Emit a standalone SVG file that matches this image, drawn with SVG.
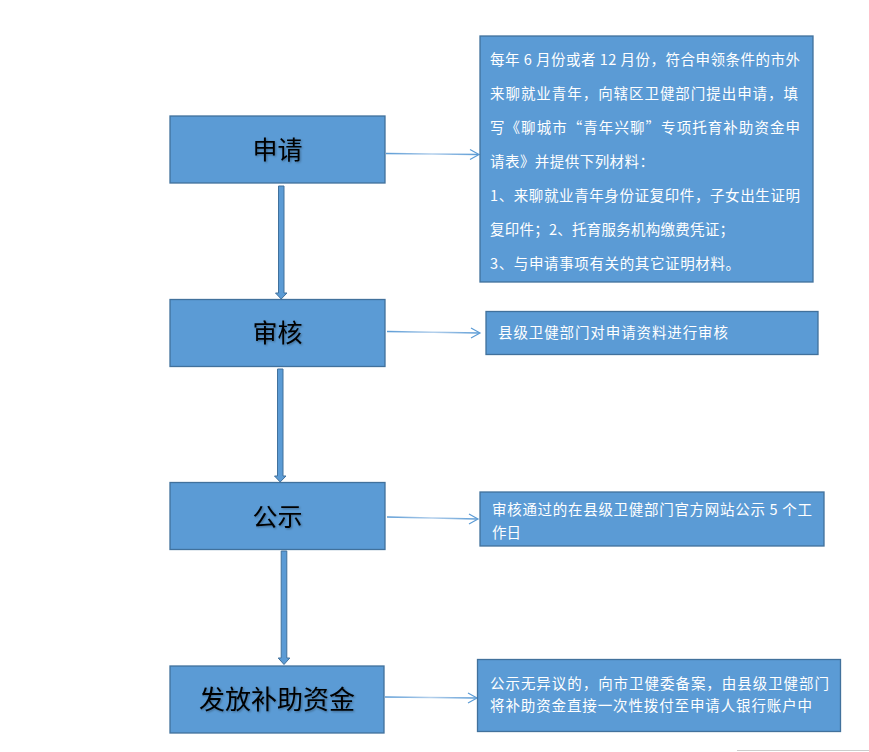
<svg xmlns="http://www.w3.org/2000/svg" width="869" height="752" viewBox="0 0 869 752">
<defs>
<style>
.box{fill:#5b9bd5;stroke:#41719c;stroke-width:1.3}
.main{font-family:"Noto Sans CJK SC","Liberation Sans",sans-serif;fill:#000;text-anchor:middle}
.desc{font-family:"Noto Sans CJK SC","Liberation Sans",sans-serif;fill:#fff;font-size:14.5px}
.conn{stroke:url(#lg);stroke-width:1.6;fill:none}
.head{stroke:#5b9bd5;stroke-width:1.2;fill:none}
.blk{fill:#5b9bd5;stroke:#41719c;stroke-width:1}
</style>
<linearGradient id="lg" x1="0" y1="0" x2="1" y2="0">
<stop offset="0" stop-color="#5b9bd5"/>
<stop offset="0.5" stop-color="#b4d0ec"/>
<stop offset="1" stop-color="#5b9bd5"/>
</linearGradient>
<filter id="sh" x="-10%" y="-10%" width="130%" height="130%">
<feDropShadow dx="1" dy="1" stdDeviation="0.8" flood-color="#000" flood-opacity="0.35"/>
</filter>
</defs>
<rect width="869" height="752" fill="#fff"/>
<g id="connectors">
<path class="conn" d="M386,153.5 L478,154.5"/>
<path class="head" d="M470,149.5 L479,154.5 L470,159.5"/>
<path class="conn" d="M387,331.5 L479,333"/>
<path class="head" d="M471,328 L480,333 L471,338"/>
<path class="conn" d="M387,517 L477,519"/>
<path class="head" d="M469,514 L478,519 L469,524"/>
<path class="conn" d="M385,697 L476,698"/>
<path class="head" d="M468,693 L477,698 L468,703"/>
<path class="blk" d="M278.5,186 L284,186 L284,293 L287,293 L281.2,299 L275.5,293 L278.5,293 Z"/>
<path class="blk" d="M277.5,369 L283,369 L283,476 L286,476 L280.2,482 L274.5,476 L277.5,476 Z"/>
<path class="blk" d="M281.2,551 L286.8,551 L286.8,658 L289.8,658 L284,664.5 L278.2,658 L281.2,658 Z"/>
</g>
<g id="n1">
<rect class="box" x="170" y="116" width="215" height="67"/>
<text class="main" x="277.5" y="159" font-size="25" filter="url(#sh)">申请</text>
</g>
<g id="d1">
<rect class="box" x="480" y="36" width="333" height="246"/>
<text class="desc"><tspan x="490" y="65" textLength="310" lengthAdjust="spacing">每年 6 月份或者 12 月份，符合申领条件的市外</tspan><tspan x="490" y="99" textLength="308" lengthAdjust="spacing">来聊就业青年，向辖区卫健部门提出申请，填</tspan><tspan x="490" y="133" textLength="310" lengthAdjust="spacing">写《聊城市“青年兴聊”专项托育补助资金申</tspan><tspan x="490" y="167" textLength="164" lengthAdjust="spacing">请表》并提供下列材料：</tspan><tspan x="490" y="201" textLength="310" lengthAdjust="spacing">1、来聊就业青年身份证复印件，子女出生证明</tspan><tspan x="490" y="235" textLength="244" lengthAdjust="spacing">复印件；2、托育服务机构缴费凭证；</tspan><tspan x="490" y="269" textLength="250" lengthAdjust="spacing">3、与申请事项有关的其它证明材料。</tspan></text>
</g>
<g id="n2">
<rect class="box" x="170" y="299.5" width="215" height="67"/>
<text class="main" x="277.5" y="342" font-size="25" filter="url(#sh)">审核</text>
</g>
<g id="d2">
<rect class="box" x="486" y="311.5" width="332" height="43"/>
<text class="desc" x="498" y="338" textLength="230" lengthAdjust="spacing">县级卫健部门对申请资料进行审核</text>
</g>
<g id="n3">
<rect class="box" x="170" y="482.5" width="215" height="67"/>
<text class="main" x="277.5" y="526" font-size="25" filter="url(#sh)">公示</text>
</g>
<g id="d3">
<rect class="box" x="480" y="492" width="344" height="54"/>
<text class="desc"><tspan x="492" y="515" textLength="320" lengthAdjust="spacing">审核通过的在县级卫健部门官方网站公示 5 个工</tspan><tspan x="492" y="538">作日</tspan></text>
</g>
<g id="n4">
<rect class="box" x="170" y="666" width="214" height="67"/>
<text class="main" x="277" y="709" font-size="26" filter="url(#sh)">发放补助资金</text>
</g>
<g id="d4">
<rect class="box" x="477.5" y="659.5" width="363" height="72"/>
<text class="desc"><tspan x="490" y="689" textLength="339" lengthAdjust="spacing">公示无异议的，向市卫健委备案，由县级卫健部门</tspan><tspan x="490" y="711" textLength="322" lengthAdjust="spacing">将补助资金直接一次性拨付至申请人银行账户中</tspan></text>
</g>
<line x1="737" y1="750.5" x2="869" y2="750.5" stroke="#cccccc" stroke-width="1.2"/>
</svg>
